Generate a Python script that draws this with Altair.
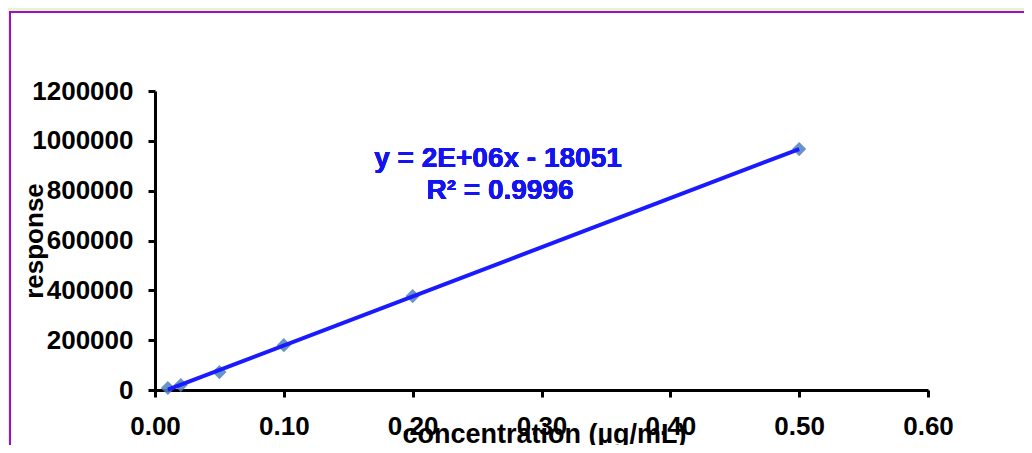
import altair as alt
import pandas as pd

# ---- data ----
conc = [0.01, 0.02, 0.05, 0.10, 0.20, 0.50]
resp = [8000, 20000, 72000, 180000, 377000, 967000]
x_ticks = [0.0, 0.1, 0.2, 0.3, 0.4, 0.5, 0.6]
y_ticks = [0, 200000, 400000, 600000, 800000, 1000000, 1200000]
equation = "y = 2E+06x - 18051"
r_squared = "R² = 0.9996"
x_title = "concentration (µg/mL)"
y_title = "response"

df = pd.DataFrame({"conc": conc, "resp": resp})

W, H = 773, 299
FONT = "Liberation Sans"
FS = 26

x_enc = alt.X(
    "conc:Q",
    scale=alt.Scale(domain=[0, 0.6], nice=False, zero=False),
    axis=alt.Axis(
        values=x_ticks, format=".2f", title=x_title,
        labelFont=FONT, labelFontSize=FS, labelFontWeight="bold", labelColor="black",
        labelPadding=16, tickSize=7, tickWidth=3, tickColor="black",
        domainColor="black", domainWidth=3, grid=False,
        titleFont=FONT, titleFontSize=27, titleFontWeight="bold", titleColor="black",
        titleX=389, titleY=52, titleBaseline="alphabetic", titleAlign="center",
        labelFlush=False, labelOverlap=False,
    ),
)
y_enc = alt.Y(
    "resp:Q",
    scale=alt.Scale(domain=[0, 1200000], nice=False),
    axis=alt.Axis(
        values=y_ticks, format="d", title=y_title,
        labelFont=FONT, labelFontSize=FS, labelFontWeight="bold", labelColor="black",
        labelPadding=15, tickSize=7, tickWidth=3, tickColor="black",
        domainColor="black", domainWidth=3, grid=False,
        titleFont=FONT, titleFontSize=FS, titleFontWeight="bold", titleColor="black",
        titleX=-113, titleY=149.5, titleAngle=270, titleBaseline="alphabetic",
        titleAlign="center", labelFlush=False, labelOverlap=False,
    ),
)

base = alt.Chart(df)

points = base.mark_point(
    shape="diamond", filled=True, size=200, color="#4F81BD", opacity=0.85
).encode(x=x_enc, y=y_enc)

trend = base.transform_regression(
    "conc", "resp", extent=[0.01, 0.5]
).mark_line(color="#1a1aff", strokeWidth=4).encode(x="conc:Q", y="resp:Q")

eq_text = base.mark_text(
    text=equation, font=FONT, fontSize=28, fontWeight="bold", color="#1414f0",
    align="center", baseline="alphabetic",
).encode(x=alt.value(343), y=alt.value(76))

r2_text = base.mark_text(
    text=r_squared, font=FONT, fontSize=28, fontWeight="bold", color="#1414f0",
    align="center", baseline="alphabetic",
).encode(x=alt.value(345), y=alt.value(108))

# frame decorations (purple border with light green glow)
glow_top = base.mark_rect(color="#e8f4cc").encode(
    x=alt.value(-147), x2=alt.value(900), y=alt.value(-83), y2=alt.value(-80)
)
glow_left = base.mark_rect(color="#e8f4cc").encode(
    x=alt.value(-147), x2=alt.value(-146), y=alt.value(-80), y2=alt.value(380)
)
border_top = base.mark_rule(color="#9b10d0", strokeWidth=2).encode(
    x=alt.value(-146), x2=alt.value(900), y=alt.value(-79)
)
border_left = base.mark_rule(color="#9b10d0", strokeWidth=2).encode(
    x=alt.value(-145), y=alt.value(-79), y2=alt.value(380)
)

chart = alt.layer(
    glow_top, glow_left, border_top, border_left, points, trend, eq_text, r2_text
).properties(
    width=W, height=H,
    padding={"left": 147, "top": 83, "right": 96, "bottom": 55},
    autosize=alt.AutoSizeParams(type="none"),
    background="white",
).configure_view(stroke=None)

chart.save("out.html", embed_options={"renderer": "svg", "actions": False})
